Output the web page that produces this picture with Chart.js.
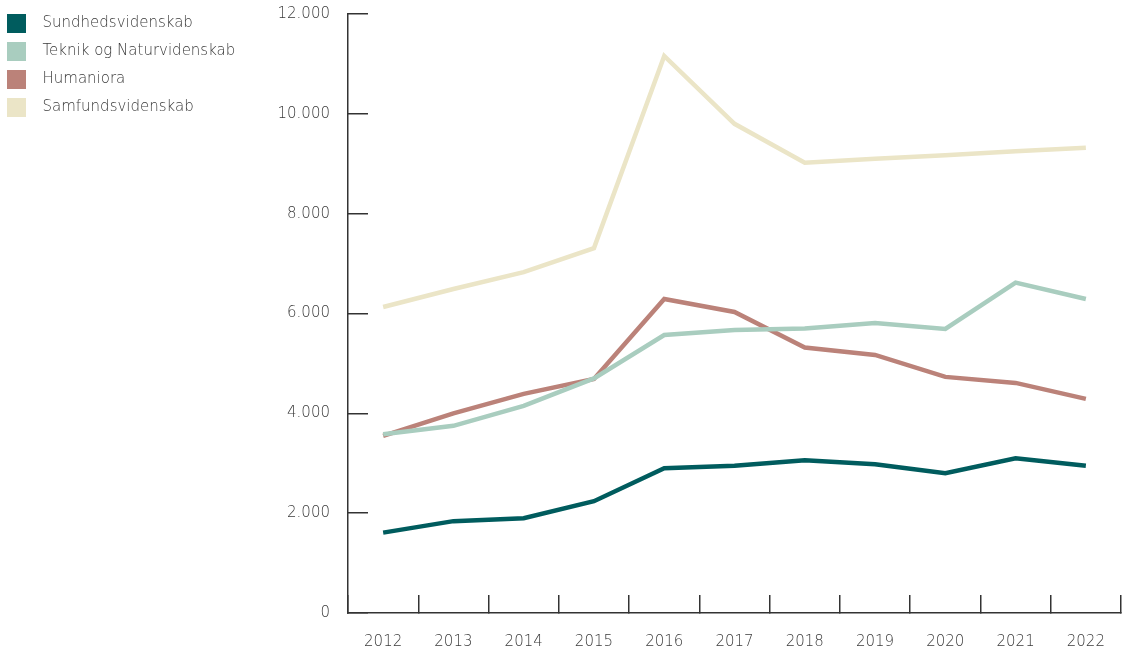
<!DOCTYPE html>
<html>
<head>
<meta charset="utf-8">
<script src="https://cdn.jsdelivr.net/npm/chart.js@4/dist/chart.umd.min.js"></script>
<style>
  html, body { margin: 0; padding: 0; background: #fff; }
  #wrap { width: 1122px; height: 649px; position: relative; }
</style>
</head>
<body>
<div id="wrap"><canvas id="chart"></canvas></div>
<script>
const years = ['2012', '2013', '2014', '2015', '2016', '2017', '2018', '2019', '2020', '2021', '2022'];
const sundhed = [1610, 1840, 1900, 2240, 2900, 2950, 3060, 2980, 2800, 3100, 2950];
const teknik = [3580, 3750, 4150, 4700, 5570, 5670, 5700, 5810, 5690, 6620, 6290];
const humaniora = [3550, 4000, 4390, 4690, 6290, 6030, 5320, 5170, 4730, 4610, 4290];
const samfund = [6130, 6490, 6830, 7310, 11160, 9800, 9020, 9100, 9170, 9250, 9320];
const yTicks = [0, 2000, 4000, 6000, 8000, 10000, 12000];

const font = { family: '"DejaVu Sans", sans-serif', size: 15, weight: 200 };
const textColor = '#3a3a3a';
const axisColor = '#333';
const legendShift = 6; // pull legend left so its 13px padding leaves ~7px

// legend swatch: 19px square with some empty room on its right
function swatch(color) {
  const c = document.createElement('canvas');
  c.width = 28;
  c.height = 19;
  const ctx = c.getContext('2d');
  ctx.fillStyle = color;
  ctx.fillRect(0, 0, 19, 19);
  return c;
}

function series(label, values, color) {
  return {
    label: label,
    data: values,
    borderColor: color,
    backgroundColor: color,
    borderWidth: 4.5,
    pointRadius: 0,
    pointHoverRadius: 0,
    pointStyle: swatch(color),
    tension: 0,
    fill: false,
  };
}

const data = {
  labels: years,
  datasets: [
    series('Sundhedsvidenskab', sundhed, '#005c5e'),
    series('Teknik og Naturvidenskab', teknik, '#a9cdbf'),
    series('Humaniora', humaniora, '#bb8279'),
    series('Samfundsvidenskab', samfund, '#ebe5c7'),
  ],
};

new Chart(document.getElementById('chart'), {
  type: 'line',
  data,
  options: {
    responsive: true,
    maintainAspectRatio: false,
    animation: false,
    layout: { padding: { top: 3, right: 1, bottom: 0, left: -legendShift } },
    plugins: {
      tooltip: { enabled: false },
      legend: {
        position: 'left',
        align: 'start',
        labels: {
          usePointStyle: true,
          pointStyleWidth: 28,
          padding: 13,
          color: textColor,
          font: font,
        },
        onClick: null,
      },
    },
    scales: {
      x: {
        type: 'category',
        offset: true,
        afterFit: (scale) => {
          scale.height = 36;
          scale.paddingLeft = 0;
          scale.paddingRight = 0;
        },
        grid: {
          offset: true,
          drawOnChartArea: false,
          drawTicks: true,
          tickLength: -18,
          color: axisColor,
          lineWidth: 1.5,
        },
        border: { color: axisColor, width: 1.5 },
        ticks: { color: textColor, font: font, padding: 38, maxRotation: 0 },
      },
      y: {
        min: 0,
        max: 12000,
        afterBuildTicks: (scale) => {
          scale.ticks = yTicks.map((v) => ({ value: v }));
        },
        afterFit: (scale) => {
          const lg = scale.chart.legend;
          scale.width = 348 + legendShift - (lg ? lg.width : 0);
          scale.paddingTop = 14;
          scale.paddingBottom = 0;
        },
        grid: {
          drawOnChartArea: false,
          drawTicks: true,
          tickLength: -20,
          color: axisColor,
          lineWidth: 1.5,
        },
        border: { color: axisColor, width: 1.5 },
        ticks: {
          color: textColor,
          font: font,
          padding: 38,
          callback: (v) => v.toLocaleString('da-DK'),
        },
      },
    },
  },
});
</script>
</body>
</html>
